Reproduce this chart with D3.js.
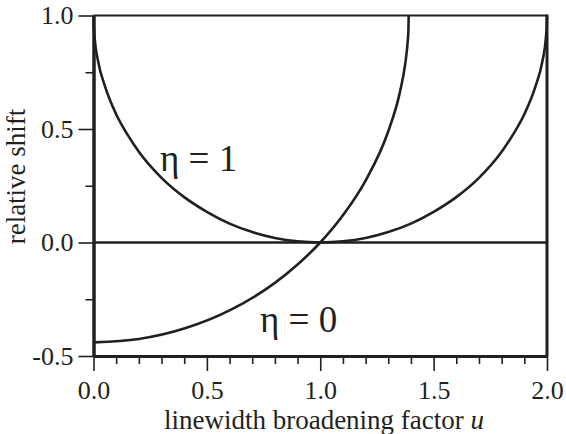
<!DOCTYPE html>
<html>
<head>
<meta charset="utf-8">
<script src="https://cdn.jsdelivr.net/npm/d3@7"></script>
<style>
  html, body { margin: 0; padding: 0; background: #fff; }
  svg { display: block; }
  svg text { font-family: "Liberation Serif", "Times New Roman", serif !important; fill: #231f20; }
</style>
</head>
<body>
<svg id="chart" width="566" height="434"></svg>
<script>
// ---- data ----
const uEta1 = [0, 0.001, 0.005, 0.02, 0.05, 0.1, 0.15, 0.2, 0.3, 0.4, 0.5, 0.6, 0.7, 0.8, 0.9, 1.0,
               1.1, 1.2, 1.3, 1.4, 1.5, 1.6, 1.7, 1.8, 1.85, 1.9, 1.95, 1.98, 1.995, 1.999, 2.0];
const shiftEta1 = [1.0, 0.955, 0.90, 0.80, 0.69, 0.565, 0.475, 0.40, 0.285, 0.20, 0.135, 0.083, 0.046, 0.02, 0.005, 0.0,
                   0.005, 0.02, 0.046, 0.083, 0.135, 0.20, 0.285, 0.40, 0.475, 0.565, 0.69, 0.80, 0.90, 0.955, 1.0];

const uEta0 = [0, 0.2, 0.4, 0.6, 0.8, 0.9, 1.0, 1.1, 1.2, 1.3, 1.35, 1.375, 1.385, 1.389, 1.39];
const shiftEta0 = [-0.44, -0.425, -0.379, -0.299, -0.178, -0.097, 0.0, 0.12, 0.273, 0.49, 0.657, 0.789, 0.878, 0.94, 1.0];

const xMajorTicks = [0, 0.5, 1.0, 1.5, 2.0];
const xMinorTicks = [0.1, 0.2, 0.3, 0.4, 0.6, 0.7, 0.8, 0.9, 1.1, 1.2, 1.3, 1.4, 1.6, 1.7, 1.8, 1.9];
const yMajorTicks = [-0.5, 0.0, 0.5, 1.0];
const yMinorTicks = [-0.25, 0.25, 0.75];

const curveLabels = ["η = 1", "η = 0"];
const labelU = [0.293, 0.734];
const labelShift = [0.315, -0.394];

const xTitle = "linewidth broadening factor ";
const xTitleVar = "u";
const yTitle = "relative shift";

// ---- layout ----
const W = 566, H = 434;
const margin = { left: 93.5, right: 19, top: 15.5, bottom: 78 };
const ink = "#231f20";
const serif = "'Liberation Serif', 'Times New Roman', serif";

const svg = d3.select("#chart");
const x = d3.scaleLinear().domain([0, 2]).range([margin.left, W - margin.right]);
const y = d3.scaleLinear().domain([-0.5, 1.0]).range([H - margin.bottom, margin.top]);

// zero line
svg.append("line")
  .attr("x1", x(0)).attr("x2", x(2))
  .attr("y1", y(0)).attr("y2", y(0))
  .attr("stroke", ink).attr("stroke-width", 2.5);

// curves
const line = d3.line().x(d => x(d[0])).y(d => y(d[1])).curve(d3.curveMonotoneX);
const series = [d3.zip(uEta1, shiftEta1), d3.zip(uEta0, shiftEta0)];
svg.selectAll("path.curve").data(series).enter().append("path")
  .attr("class", "curve")
  .attr("d", line)
  .attr("fill", "none")
  .attr("stroke", ink)
  .attr("stroke-width", 2.6);

// frame: top and right
svg.append("line")
  .attr("x1", x(0)).attr("x2", x(2)).attr("y1", y(1)).attr("y2", y(1))
  .attr("stroke", ink).attr("stroke-width", 2);
svg.append("line")
  .attr("x1", x(2)).attr("x2", x(2)).attr("y1", y(1) - 1).attr("y2", y(-0.5))
  .attr("stroke", ink).attr("stroke-width", 3);

// axes
const fmt = d => d3.format(".1f")(d).replace("\u2212", "-");
svg.append("g").attr("transform", `translate(0,${y(-0.5)})`)
  .call(d3.axisBottom(x).tickValues(xMinorTicks).tickSize(8).tickSizeOuter(0).tickFormat(""));
svg.append("g").attr("transform", `translate(0,${y(-0.5)})`)
  .call(d3.axisBottom(x).tickValues(xMajorTicks).tickSize(15).tickSizeOuter(0).tickPadding(10).tickFormat(fmt));

svg.append("g").attr("transform", `translate(${x(0)},0)`)
  .call(d3.axisLeft(y).tickValues(yMinorTicks).tickSize(8).tickSizeOuter(0).tickFormat(""));
svg.append("g").attr("transform", `translate(${x(0)},0)`)
  .call(d3.axisLeft(y).tickValues(yMajorTicks).tickSize(15).tickSizeOuter(0).tickPadding(5).tickFormat(fmt));

svg.selectAll("g").attr("font-family", serif).attr("font-size", 26);
svg.selectAll(".domain").attr("stroke", ink).attr("stroke-width", 3);
svg.selectAll(".tick line").attr("stroke", ink).attr("stroke-width", 1.6);
svg.selectAll(".tick text").attr("fill", ink);

// axis titles
const xt = svg.append("text")
  .attr("x", 324).attr("y", 429)
  .attr("text-anchor", "middle").attr("font-size", 27).attr("font-family", serif);
xt.append("tspan").text(xTitle);
xt.append("tspan").attr("font-style", "italic").text(xTitleVar);

svg.append("text")
  .attr("transform", `translate(25,${176.5}) rotate(-90)`)
  .attr("text-anchor", "middle").attr("font-size", 27).attr("font-family", serif)
  .text(yTitle);

// curve labels
svg.selectAll("text.clabel").data(curveLabels).enter().append("text")
  .attr("class", "clabel")
  .attr("x", (d, i) => x(labelU[i]))
  .attr("y", (d, i) => y(labelShift[i]))
  .attr("font-size", 37).attr("font-family", serif)
  .text(d => d);
</script>
</body>
</html>
